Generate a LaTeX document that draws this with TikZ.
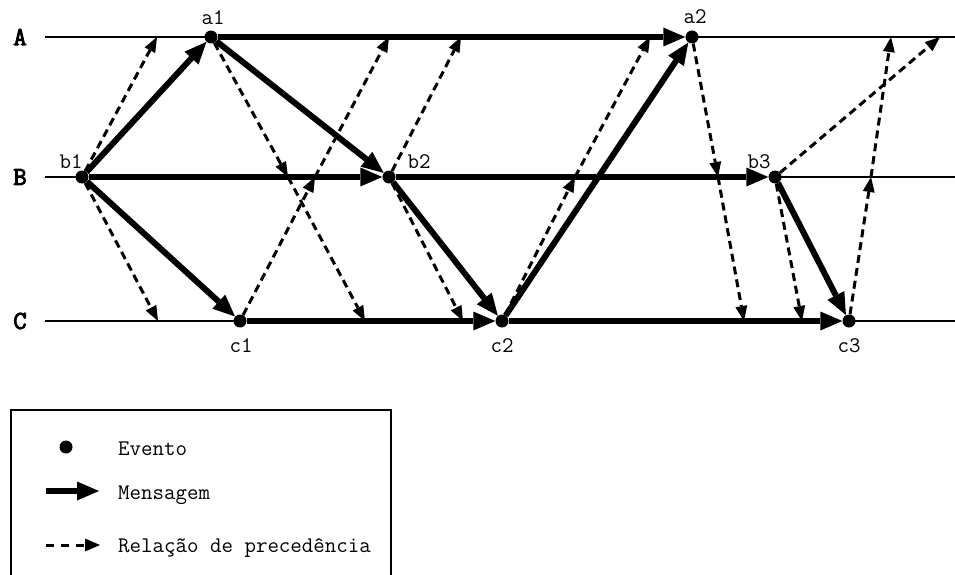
\documentclass[tikz,border=0pt]{standalone}
\usepackage{fontspec}
\newfontfamily\labfont{Latin Modern Mono}
\newfontfamily\lanefont{Latin Modern Mono}[FakeBold=3.5]
\usetikzlibrary{arrows.meta}
\begin{document}
\begin{tikzpicture}[x=1pt,y=-1pt,
  lane/.style={line width=1.5pt},
  msg/.style={line width=6pt, -{Triangle[length=22pt,width=19pt,line width=0pt]}},
  prec/.style={line width=3pt, dash pattern=on 8pt off 5pt, -{Triangle[length=15pt,width=12pt,line width=0pt]}},
  legprec/.style={line width=3pt, dash pattern=on 8pt off 7pt, -{Triangle[length=15pt,width=13pt,line width=0pt]}},
  ev/.style={circle, fill=black, inner sep=0pt, minimum size=13pt},
  lbl/.style={font=\labfont\fontsize{22.3}{26}\selectfont, anchor=base, inner sep=0pt},
  lanelabel/.style={font=\lanefont\fontsize{26}{30}\selectfont, inner sep=0pt}
]
\useasboundingbox (0,0) rectangle (955,575);

% lane labels
\node[lanelabel] (lA) at (20,37) {A};
\node[lanelabel] (lB) at (20,177) {B};
\node[lanelabel] (lC) at (20,321) {C};

% events
\node[ev] (a1) at (211,37) {};
\node[ev] (a2) at (692,37) {};
\node[ev] (b1) at (82,177) {};
\node[ev] (b2) at (389,177) {};
\node[ev] (b3) at (775,177) {};
\node[ev] (c1) at (240,321) {};
\node[ev] (c2) at (502,321) {};
\node[ev] (c3) at (849,321) {};

% lane ends
\coordinate (A0) at (45,37);  \coordinate (A1) at (955,37);
\coordinate (B0) at (45,177); \coordinate (B1) at (955,177);
\coordinate (C0) at (45,321); \coordinate (C1) at (955,321);

\draw[lane] (A0) -- (a1.center);
\draw[lane] (a2.center) -- (A1);
\draw[lane] (B0) -- (b1.center);
\draw[lane] (b3.center) -- (B1);
\draw[lane] (C0) -- (c1.center);
\draw[lane] (c3.center) -- (C1);

% precedence points
\coordinate (p1) at (157,37);
\coordinate (p2) at (158,321);
\coordinate (p3) at (288,177);
\coordinate (p4) at (365,321);
\coordinate (p5) at (315,177);
\coordinate (p6) at (389,37);
\coordinate (p7) at (461,37);
\coordinate (p8) at (463,321);
\coordinate (p9) at (575,177);
\coordinate (p10) at (650,37);
\coordinate (p11) at (718,177);
\coordinate (p12) at (744,321);
\coordinate (p13) at (802,321);
\coordinate (p14) at (940,37);
\coordinate (p15) at (871,177);
\coordinate (p16) at (891,37);

\draw[prec] (b1) -- (p1);
\draw[prec] (b1) -- (p2);
\draw[prec] (a1) -- (p3);
\draw[prec] (p3) -- (p4);
\draw[prec] (c1) -- (p5);
\draw[prec] (p5) -- (p6);
\draw[prec] (b2) -- (p7);
\draw[prec] (b2) -- (p8);
\draw[prec] (c2) -- (p9);
\draw[prec] (p9) -- (p10);
\draw[prec] (a2) -- (p11);
\draw[prec] (p11) -- (p12);
\draw[prec] (b3) -- (p13);
\draw[prec] (b3) -- (p14);
\draw[prec] (c3) -- (p15);
\draw[prec] (p15) -- (p16);

% messages
\draw[msg] (a1) -- (a2);
\draw[msg] (b1) -- (b2);
\draw[msg] (b2) -- (b3);
\draw[msg] (c1) -- (c2);
\draw[msg] (c2) -- (c3);
\draw[msg] (b1) -- (a1);
\draw[msg] (b1) -- (c1);
\draw[msg] (a1) -- (b2);
\draw[msg] (b2) -- (c2);
\draw[msg] (c2) -- (a2);
\draw[msg] (b3) -- (c3);

% event labels
\node[lbl] (la1) at (213,25) {a1};
\node[lbl] (la2) at (695,24) {a2};
\node[lbl] (lb1) at (71,168) {b1};
\node[lbl] (lb2) at (419,168) {b2};
\node[lbl] (lb3) at (759,168) {b3};
\node[lbl] (lc1) at (241,352) {c1};
\node[lbl] (lc2) at (502,352) {c2};
\node[lbl] (lc3) at (849,352) {c3};

% legend
\draw[line width=1.5pt] (11,576) -- (11,410) -- (391,410) -- (391,576);
\node[ev] (lgdot) at (66,447) {};
\coordinate (lm0) at (46,491); \coordinate (lm1) at (99,491);
\draw[msg] (lm0) -- (lm1);
\coordinate (lp0) at (46,545); \coordinate (lp1) at (100,545);
\draw[legprec] (lp0) -- (lp1);
\node[lbl, anchor=base west] (lgev) at (118,455) {Evento};
\node[lbl, anchor=base west] (lgmsg) at (118,499) {Mensagem};
\node[lbl, anchor=base west] (lgprec) at (118,552) {Relação de precedência};
\end{tikzpicture}
\end{document}
